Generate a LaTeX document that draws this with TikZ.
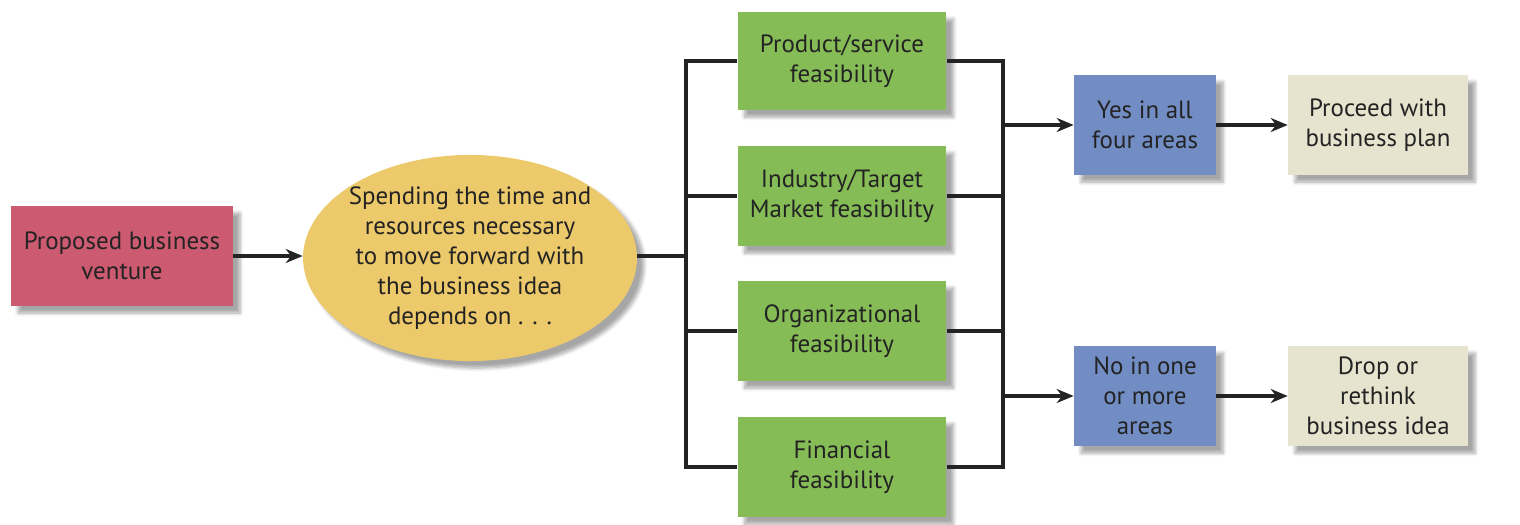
\documentclass[tikz,border=0pt]{standalone}
\usepackage{fontspec}
\setmainfont{PT Sans}
\usetikzlibrary{shapes.geometric,arrows.meta,positioning,calc,shadows.blur}
\definecolor{ventcol}{RGB}{204,90,113}
\definecolor{dependcol}{RGB}{236,201,106}
\definecolor{feascol}{RGB}{133,188,86}
\definecolor{decidecol}{RGB}{113,141,196}
\definecolor{outcol}{RGB}{230,227,206}
\definecolor{inkcol}{RGB}{35,35,35}

\begin{document}
\begin{tikzpicture}[
    x=0.02cm, y=-0.02cm,
    >={Stealth[length=3.4mm,width=2.8mm]},
    box/.style={rectangle, minimum height=2cm, align=center, font=\fontsize{14.2}{17}\selectfont, text=inkcol, inner sep=1pt,
        blur shadow={shadow xshift=4pt, shadow yshift=-4pt, shadow blur steps=6, shadow opacity=35}},
    line/.style={draw=inkcol, line width=2pt},
    arrow/.style={->, line, line width=2pt},
]
\useasboundingbox (0,0) rectangle (1520,524);

\node[box, fill=ventcol, minimum width=4.44cm] (venture) at (122,256) {Proposed business\\venture};
\node[box, ellipse, fill=dependcol, inner xsep=-2.5pt, minimum width=6.68cm, minimum height=4.12cm] (depend) at (470,258) {Spending the time and\\resources necessary\\to move forward with\\the business idea\\depends on . . .};

\node[box, fill=feascol, minimum width=4.18cm, minimum height=1.96cm] (prod) at (842,61) {Product/service\\feasibility};
\node[box, fill=feascol, minimum width=4.18cm] (ind) at (842,196) {Industry/Target\\Market feasibility};
\node[box, fill=feascol, minimum width=4.18cm] (org) at (842,331) {Organizational\\feasibility};
\node[box, fill=feascol, minimum width=4.18cm] (fin) at (842,467) {Financial\\feasibility};

\node[box, fill=decidecol, minimum width=2.84cm] (yes) at (1145,125) {Yes in all\\four areas};
\node[box, fill=decidecol, minimum width=2.84cm] (no) at (1145,396) {No in one\\or more\\areas};
\node[box, fill=outcol, minimum width=3.6cm] (plan) at (1378,125) {Proceed with\\business plan};
\node[box, fill=outcol, minimum width=3.6cm] (drop) at (1378,396) {Drop or\\rethink\\business idea};

\coordinate (busL) at (686,256);
\coordinate (busR) at (1003,256);

\draw[arrow] (venture) -- (venture -| depend.west);
\draw[line] (busL -| depend.east) -- (busL);
\draw[line] (prod.west) -| (busL) |- (fin.west);
\draw[line] (ind.west) -- (ind.west -| busL);
\draw[line] (org.west) -- (org.west -| busL);
\draw[line] (prod.east) -| (busR) |- (fin.east);
\draw[line] (ind.east) -- (ind.east -| busR);
\draw[line] (org.east) -- (org.east -| busR);

\draw[arrow] (yes.west -| busR) -- (yes);
\draw[arrow] (no.west -| busR) -- (no);
\draw[arrow] (yes) -- (plan);
\draw[arrow] (no) -- (drop);
\end{tikzpicture}
\end{document}
